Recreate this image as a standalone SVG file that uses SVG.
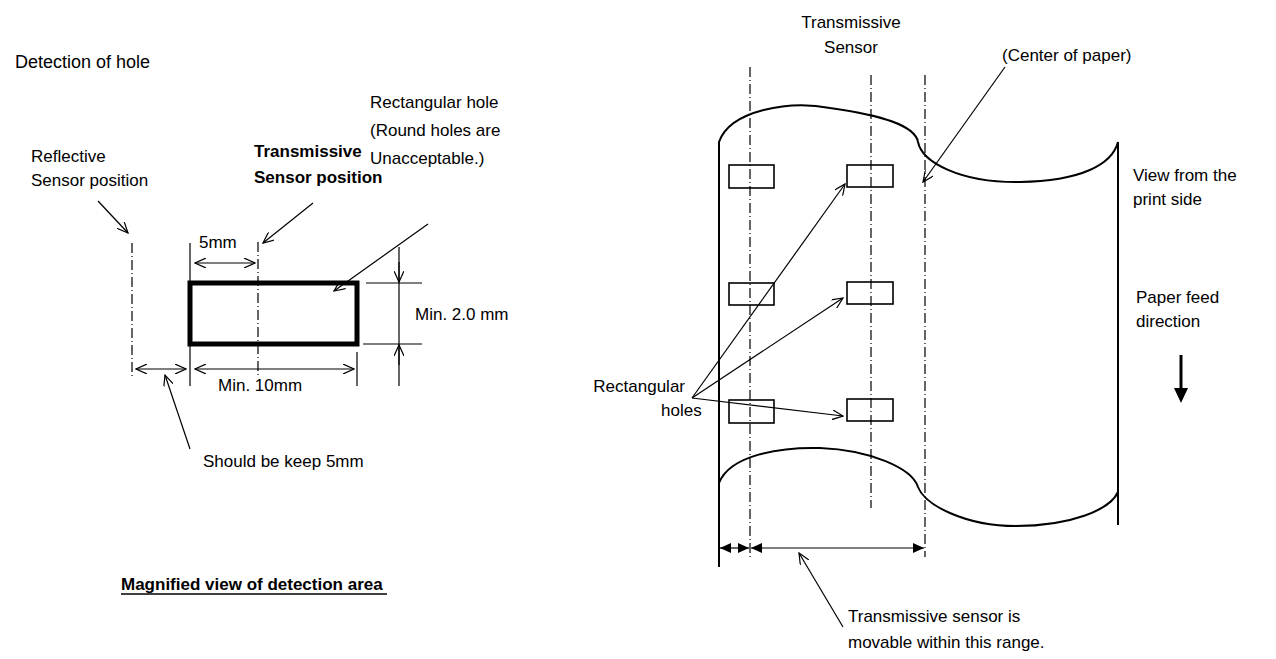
<svg xmlns="http://www.w3.org/2000/svg" width="1276" height="659" viewBox="0 0 1276 659">
<style>
text{font-family:"Liberation Sans",Arial,sans-serif;font-size:17px;fill:#000}
.b{font-weight:bold}
.l{stroke:#000;stroke-width:1.2;fill:none}
.dd{stroke:#000;stroke-width:1.2;fill:none;stroke-dasharray:10 3 1 3}
.p{stroke:#000;stroke-width:2;fill:none}
.h{stroke:#000;stroke-width:1.6;fill:none}
</style>
<defs>
<marker id="o" viewBox="0 0 12 10" refX="11" refY="5" markerWidth="12" markerHeight="10" markerUnits="userSpaceOnUse" orient="auto-start-reverse"><path d="M0,0 L11,5 L0,10" fill="none" stroke="#000" stroke-width="1.2"/></marker>
<marker id="f" viewBox="0 0 12 10" refX="11" refY="5" markerWidth="12" markerHeight="10" markerUnits="userSpaceOnUse" orient="auto-start-reverse"><path d="M0,0 L11,5 L0,10 Z" fill="#000"/></marker>
</defs>
<rect width="1276" height="659" fill="#fff"/>
<g id="left">
<text x="15" y="68" style="font-size:18px">Detection of hole</text>
<text x="31" y="162">Reflective</text>
<text x="31" y="186">Sensor position</text>
<text x="254" y="157" class="b">Transmissive</text>
<text x="254" y="183" class="b">Sensor position</text>
<text x="370" y="108">Rectangular hole</text>
<text x="370" y="136">(Round holes are</text>
<text x="370" y="164">Unacceptable.)</text>
<text x="199" y="248">5mm</text>
<text x="415" y="320">Min. 2.0 mm</text>
<text x="218" y="391">Min. 10mm</text>
<text x="203" y="467">Should be keep 5mm</text>
<text x="121" y="590" class="b">Magnified view of detection area</text>
<line x1="121" y1="594" x2="387" y2="594" stroke="#000" stroke-width="1.5"/>
<rect id="hole" x="190" y="283" width="167" height="61" fill="none" stroke="#000" stroke-width="5"/>
<line class="dd" x1="132" y1="243" x2="132" y2="378"/>
<line class="dd" x1="258" y1="242" x2="258" y2="378"/>
<line class="l" x1="190" y1="243" x2="190" y2="386"/>
<line class="l" x1="357" y1="352" x2="357" y2="386"/>
<line class="l" x1="399" y1="247" x2="399" y2="386"/>
<line class="l" x1="366" y1="283" x2="422" y2="283"/>
<line class="l" x1="363" y1="344" x2="422" y2="344"/>
</g>
<g id="connectors">
<line class="l" x1="195" y1="263" x2="255" y2="263" marker-start="url(#o)" marker-end="url(#o)"/>
<line class="l" x1="136" y1="369" x2="186" y2="369" marker-start="url(#o)" marker-end="url(#o)"/>
<line class="l" x1="195" y1="369" x2="354" y2="369" marker-start="url(#o)" marker-end="url(#o)"/>
<line class="l" x1="399" y1="262" x2="399" y2="282" marker-end="url(#o)"/>
<line class="l" x1="399" y1="365" x2="399" y2="345" marker-end="url(#o)"/>
<line class="l" x1="98" y1="201" x2="128" y2="233" marker-end="url(#o)"/>
<line class="l" x1="313" y1="203" x2="263" y2="243" marker-end="url(#o)"/>
<line class="l" x1="428" y1="224" x2="334" y2="291" marker-end="url(#o)"/>
<line class="l" x1="190" y1="449" x2="165" y2="375" marker-end="url(#o)"/>
<line class="l" x1="692" y1="398" x2="845" y2="184" marker-end="url(#o)"/>
<line class="l" x1="692" y1="398" x2="843" y2="298" marker-end="url(#o)"/>
<line class="l" x1="692" y1="398" x2="843" y2="416" marker-end="url(#o)"/>
<line class="l" x1="1005" y1="67" x2="923" y2="182" marker-end="url(#o)"/>
<line class="l" x1="843" y1="627" x2="799" y2="553" marker-end="url(#o)"/>
<line class="l" x1="720" y1="548" x2="749" y2="548" marker-start="url(#f)" marker-end="url(#f)"/>
<line class="l" x1="751" y1="548" x2="924" y2="548" marker-start="url(#f)" marker-end="url(#f)"/>
<line x1="1181" y1="355" x2="1181" y2="392" stroke="#000" stroke-width="3"/>
<path d="M1174,388 L1188,388 L1181,403 Z" fill="#000"/>
</g>
<g id="right">
<text x="851" y="28" text-anchor="middle">Transmissive</text>
<text x="851" y="53" text-anchor="middle">Sensor</text>
<text x="1002" y="61">(Center of paper)</text>
<text x="1133" y="181">View from the</text>
<text x="1133" y="205">print side</text>
<text x="1136" y="303">Paper feed</text>
<text x="1136" y="327">direction</text>
<text x="685" y="392" text-anchor="end">Rectangular</text>
<text x="661" y="416">holes</text>
<text x="848" y="622">Transmissive sensor is</text>
<text x="848" y="648">movable within this range.</text>
<path class="p" d="M719,567 L719,142 C730,110 790,100 830,108 C880,115 915,125 918,142 C922,162 960,183 1020,182 C1080,181 1112,165 1118,142 L1118,525"/>
<path class="p" d="M719,483 C730,455 780,447 820,448 C870,450 912,468 918,487 C925,505 965,526 1016,526 C1070,526 1110,510 1118,492"/>
<line class="dd" x1="750" y1="67" x2="750" y2="560"/>
<line class="dd" x1="871" y1="75" x2="871" y2="508"/>
<line class="dd" x1="925" y1="75" x2="925" y2="557"/>
<g class="h">
<rect x="729" y="165" width="45" height="23"/>
<rect x="729" y="283" width="45" height="22"/>
<rect x="729" y="400" width="45" height="23"/>
<rect x="847" y="165" width="46" height="22"/>
<rect x="847" y="282" width="46" height="22"/>
<rect x="847" y="399" width="46" height="22"/>
</g>
</g>
</svg>
